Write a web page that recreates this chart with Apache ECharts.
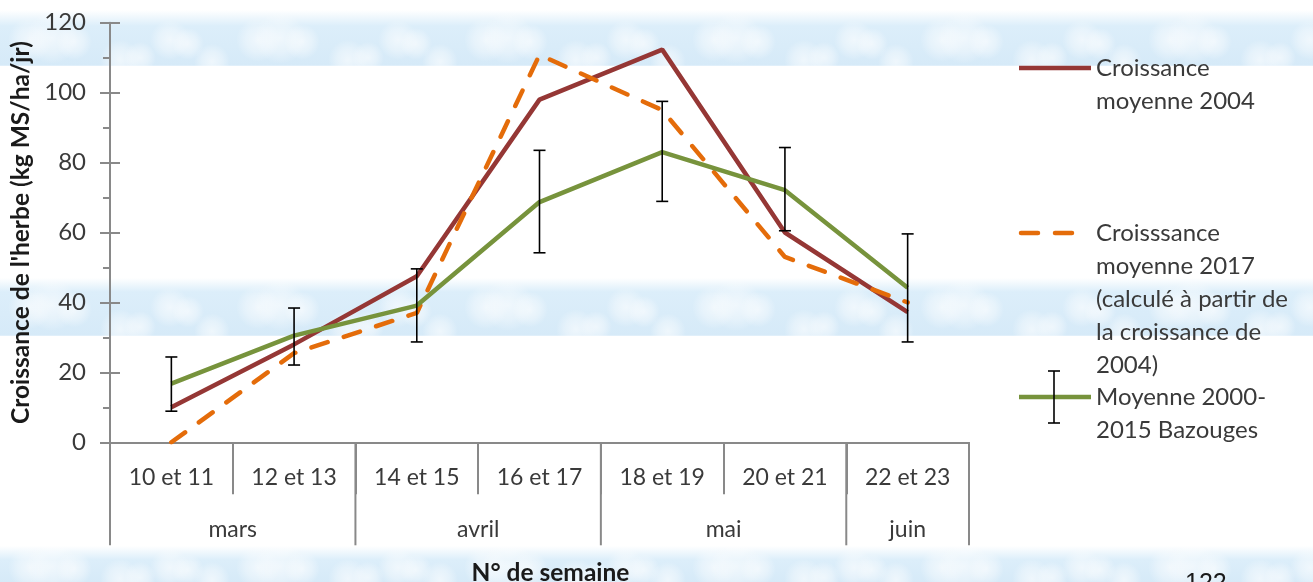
<!DOCTYPE html>
<html>
<head>
<meta charset="utf-8">
<script src="https://cdn.jsdelivr.net/npm/echarts@6/dist/echarts.min.js"></script>
<style>
  html, body { margin: 0; padding: 0; background: #ffffff; }
  #chart { width: 1313px; height: 582px; }
</style>
</head>
<body>
<div id="chart"></div>
<script>
// Week pairs on the category axis, grouped by month underneath
const weeks = ['10 et 11', '12 et 13', '14 et 15', '16 et 17', '18 et 19', '20 et 21', '22 et 23'];
const monthNames = ['mars', 'avril', 'mai', 'juin'];
const monthSpans = [2, 2, 2, 1];

// Grass growth (kg MS/ha/jr)
const croissance2004 = [10, 28, 47.5, 98, 112.3, 60, 37.2];
const croissance2017 = [0, 25.5, 37, 110.8, 95, 53, 40];
const moyenne2000_2015 = [16.8, 30.5, 39.1, 68.7, 83, 72.1, 44.2];
const moyenneBas = [8.9, 22.1, 28.7, 54.2, 68.9, 60.5, 28.7];
const moyenneHaut = [24.4, 38.4, 49.6, 83.5, 97.5, 84.3, 59.6];

const legendLabels = [
  ['Croissance', 'moyenne 2004'],
  ['Croisssance', 'moyenne 2017', '(calculé à partir de', 'la croissance de', '2004)'],
  ['Moyenne 2000-', '2015 Bazouges']
];

const FONT = 'Lato';
const AXIS_GREY = '#898989';
const TEXT = '#3a3a3a';
const RED = '#953735';
const ORANGE = '#E46C0A';
const GREEN = '#77933C';

const chart = echarts.init(document.getElementById('chart'), null, { renderer: 'canvas' });

// Soft sky bands with faint cloud puffs behind the plot
function skyBand(y0, y1, fade) {
  const els = [{
    type: 'rect', silent: true, z: -20,
    shape: { x: 0, y: y0, width: 1313, height: y1 - y0 },
    style: {
      fill: new echarts.graphic.LinearGradient(0, 0, 0, 1, [
        { offset: 0, color: 'rgba(220,238,250,0)' },
        { offset: fade / (y1 - y0), color: 'rgba(220,238,250,1)' },
        { offset: 1, color: 'rgba(214,234,248,1)' }
      ])
    }
  }];
  // each puff: [dx within a 228px tile, relative depth in the band, radius]
  const puffs = [[30, 0.35, 22], [52, 0.3, 26], [74, 0.4, 18], [120, 0.85, 20], [140, 0.8, 16],
                 [170, 0.35, 20], [188, 0.45, 16], [212, 0.9, 18]];
  for (let tx = 0; tx < 1313 + 228; tx += 228) {
    puffs.forEach(p => {
      els.push({
        type: 'circle', silent: true, z: -19,
        shape: { cx: tx + p[0], cy: y0 + fade + (y1 - y0 - fade) * p[1], r: p[2] },
        style: {
          fill: new echarts.graphic.RadialGradient(0.5, 0.5, 0.5, [
            { offset: 0, color: 'rgba(255,255,255,0.6)' },
            { offset: 0.55, color: 'rgba(255,255,255,0.35)' },
            { offset: 1, color: 'rgba(255,255,255,0)' }
          ])
        }
      });
    });
  }
  return els;
}

const option = {
  backgroundColor: '#ffffff',
  animation: false,
  grid: { left: 110, right: 344, top: 22.7, bottom: 139.7, containLabel: false, outerBoundsMode: 'none' },
  xAxis: {
    type: 'category',
    data: weeks,
    boundaryGap: true,
    axisLine: { lineStyle: { color: AXIS_GREY, width: 2 } },
    axisTick: { show: true, length: 52, lineStyle: { color: AXIS_GREY, width: 2 } },
    axisLabel: { fontFamily: FONT, fontSize: 23, color: TEXT, margin: 24 },
    name: 'N° de semaine',
    nameLocation: 'middle',
    nameGap: 118,
    nameTextStyle: { fontFamily: FONT, fontSize: 24.5, fontWeight: 'bold', color: '#1a1a1a', verticalAlign: 'top', padding: [0, 0, 0, 22] }
  },
  yAxis: [{
    type: 'value',
    min: 0, max: 120, interval: 20,
    axisLine: { show: true, lineStyle: { color: AXIS_GREY, width: 2 } },
    axisTick: { show: true, length: 10, lineStyle: { color: AXIS_GREY, width: 2 } },
    minorTick: { show: true, splitNumber: 2, length: 7, lineStyle: { color: AXIS_GREY, width: 2 } },
    splitLine: { show: false },
    axisLabel: { fontFamily: FONT, fontSize: 24, color: TEXT, margin: 24 },
    name: "Croissance de l'herbe (kg MS/ha/jr)",
    nameLocation: 'middle',
    nameRotate: 90,
    nameGap: 74,
    nameTextStyle: { fontFamily: FONT, fontSize: 24.5, fontWeight: 'bold', color: '#1a1a1a' }
  }, {
    // inner half of the major ticks
    type: 'value', position: 'left',
    min: 0, max: 120, interval: 20,
    axisLine: { show: false },
    axisTick: { show: true, inside: true, length: 10, lineStyle: { color: AXIS_GREY, width: 2 } },
    axisLabel: { show: false },
    splitLine: { show: false }
  }],
  series: [{
    name: 'Croissance moyenne 2004',
    type: 'line',
    data: croissance2004,
    symbol: 'none',
    lineStyle: { color: RED, width: 4.5 },
    z: 3
  }, {
    name: 'Croisssance moyenne 2017',
    type: 'line',
    data: croissance2017,
    symbol: 'none',
    lineStyle: { color: ORANGE, width: 4.5, type: [17, 17], cap: 'round' },
    z: 4
  }, {
    name: 'Moyenne 2000-2015 Bazouges',
    type: 'line',
    data: moyenne2000_2015,
    symbol: 'none',
    lineStyle: { color: GREEN, width: 4.5 },
    z: 5
  }, {
    name: 'Moyenne 2000-2015 Bazouges',
    type: 'custom',
    data: weeks.map((w, i) => [i, moyenneBas[i], moyenneHaut[i]]),
    renderItem: function (params, api) {
      const lo = api.coord([api.value(0), api.value(1)]);
      const hi = api.coord([api.value(0), api.value(2)]);
      const half = 6;
      const st = { stroke: '#000000', lineWidth: 1.6 };
      return {
        type: 'group',
        children: [
          { type: 'line', shape: { x1: lo[0], y1: lo[1], x2: hi[0], y2: hi[1] }, style: st },
          { type: 'line', shape: { x1: hi[0] - half, y1: hi[1], x2: hi[0] + half, y2: hi[1] }, style: st },
          { type: 'line', shape: { x1: lo[0] - half, y1: lo[1], x2: lo[0] + half, y2: lo[1] }, style: st }
        ]
      };
    },
    z: 6
  }]
};

chart.setOption(option);

// Month row: long dividers at month boundaries, month names centred under their weeks
const grid = chart.getModel().getComponent('grid').coordinateSystem.getRect();
const axisY = grid.y + grid.height;
const band = grid.width / weeks.length;
const extra = [];
let start = 0;
const bounds = [start];
monthNames.forEach((m, k) => {
  const first = start, last = start + monthSpans[k] - 1;
  const cx0 = chart.convertToPixel({ xAxisIndex: 0 }, weeks[first]);
  const cx1 = chart.convertToPixel({ xAxisIndex: 0 }, weeks[last]);
  extra.push({
    type: 'text', silent: true,
    style: { text: m, x: (cx0 + cx1) / 2, y: axisY + 87, align: 'center', verticalAlign: 'middle',
             font: '23px ' + FONT, fill: TEXT }
  });
  start += monthSpans[k];
  bounds.push(start);
});
bounds.forEach(b => {
  const px = b < weeks.length
    ? chart.convertToPixel({ xAxisIndex: 0 }, weeks[b]) - band / 2
    : chart.convertToPixel({ xAxisIndex: 0 }, weeks[weeks.length - 1]) + band / 2;
  extra.push({
    type: 'line', silent: true,
    shape: { x1: px, y1: axisY, x2: px, y2: axisY + 103 },
    style: { stroke: AXIS_GREY, lineWidth: 2 }
  });
});

// Legend on the right
const lx0 = 1019, lx1 = 1091, tx = 1096, lh = 33;
const legendRows = [68, 233, 397];
const legendEls = [
  { type: 'line', silent: true, shape: { x1: lx0, y1: legendRows[0], x2: lx1, y2: legendRows[0] },
    style: { stroke: RED, lineWidth: 4.5 } },
  { type: 'line', silent: true, shape: { x1: lx0 + 2, y1: legendRows[1], x2: lx1 - 14, y2: legendRows[1] },
    style: { stroke: ORANGE, lineWidth: 4.5, lineDash: [17, 17], lineCap: 'round' } },
  { type: 'line', silent: true, shape: { x1: lx0, y1: legendRows[2], x2: lx1, y2: legendRows[2] },
    style: { stroke: GREEN, lineWidth: 4.5 } },
  { type: 'line', silent: true, shape: { x1: 1054, y1: legendRows[2] - 26, x2: 1054, y2: legendRows[2] + 26 },
    style: { stroke: '#000', lineWidth: 1.6 } },
  { type: 'line', silent: true, shape: { x1: 1048, y1: legendRows[2] - 26, x2: 1060, y2: legendRows[2] - 26 },
    style: { stroke: '#000', lineWidth: 1.6 } },
  { type: 'line', silent: true, shape: { x1: 1048, y1: legendRows[2] + 26, x2: 1060, y2: legendRows[2] + 26 },
    style: { stroke: '#000', lineWidth: 1.6 } }
];
legendLabels.forEach((lines, k) => {
  lines.forEach((t, j) => {
    legendEls.push({
      type: 'text', silent: true,
      style: { text: t, x: tx, y: legendRows[k] + j * lh, verticalAlign: 'middle',
               font: '24px ' + FONT, fill: TEXT }
    });
  });
});

// Page number, partly cut by the bottom edge
const pageNum = {
  type: 'text', silent: true,
  style: { text: '122', x: 1185, y: 572, verticalAlign: 'top', font: '25px "Liberation Sans"', fill: '#1a1a1a' }
};

chart.setOption({
  graphic: [].concat(skyBand(10, 65.7, 16), skyBand(278, 335.7, 14), skyBand(546, 582, 14), extra, legendEls, [pageNum])
});
</script>
</body>
</html>
